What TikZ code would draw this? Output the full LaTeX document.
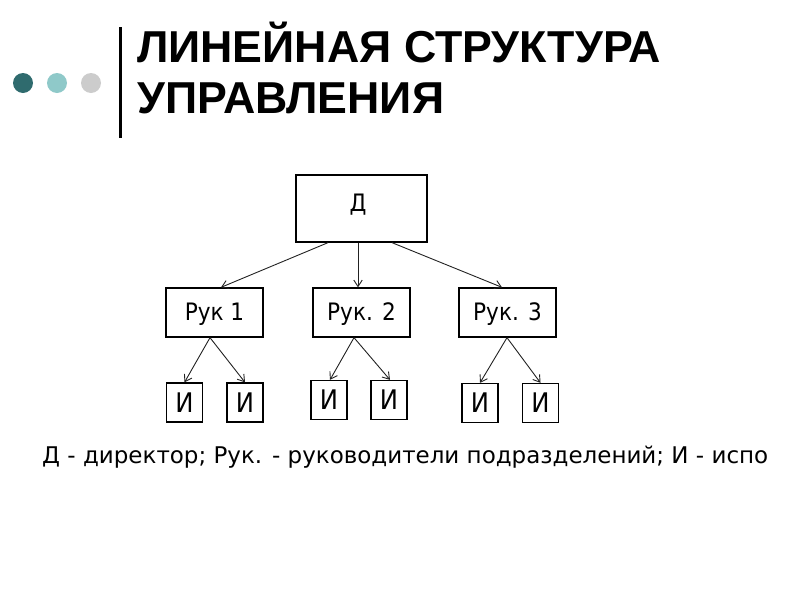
\documentclass[tikz,border=0pt]{standalone}
\usepackage{fontspec}
\setmainfont{DejaVu Sans}
\newfontfamily\titlefont{Liberation Sans}
\newfontfamily\boxfont[FakeStretch=0.9]{DejaVu Sans}
\usetikzlibrary{arrows.meta,calc}
\definecolor{dotA}{HTML}{2F6B6E}
\definecolor{dotB}{HTML}{8FC9C9}
\definecolor{dotC}{HTML}{CCCCCC}
\definecolor{linecol}{HTML}{222222}
\newcommand{\lowertext}[1]{\raisebox{-2pt}[\height][\depth]{#1}}
\tikzset{
  orgbox/.style={draw=black, line width=1.3pt, rectangle, inner sep=0pt, font=\boxfont\fontsize{24}{28}\selectfont},
  ibox/.style={orgbox, minimum width=36pt, minimum height=39pt, font=\boxfont\fontsize{27}{30}\selectfont},
  rukbox/.style={orgbox, minimum width=97pt, minimum height=49pt},
  link/.style={draw=linecol, line width=0.9pt, -{Straight Barb[length=6.5pt,width=8.5pt]}},
  titletext/.style={anchor=base west, inner sep=0pt, font=\titlefont\bfseries\fontsize{44.7}{50}\selectfont},
}
\begin{document}
\begin{tikzpicture}[x=1pt,y=-1pt]
\useasboundingbox (0,0) rectangle (800,600);
% decorations
\fill[dotA] (23,83) circle (10);
\fill[dotB] (57,83) circle (10);
\fill[dotC] (91,83) circle (10);
\fill[black] (119,27) rectangle (122,138);
\node[titletext] (t1) at (137,62) {ЛИНЕЙНАЯ СТРУКТУРА};
\node[titletext] (t2) at (137,113) {УПРАВЛЕНИЯ};
% boxes
\node[orgbox, minimum width=131pt, minimum height=67pt] (D) at (361.5,208.5) {};
\node[inner sep=0pt, font=\boxfont\fontsize{24}{28}\selectfont] (Dt) at (358,205) {Д};
\node[rukbox] (R1) at (214.5,312.5) {\lowertext{Рук 1}};
\node[rukbox] (R2) at (361.5,312.5) {\lowertext{Рук. 2}};
\node[rukbox] (R3) at (507.5,312.5) {\lowertext{Рук. 3}};
\node[ibox] (I1) at (184.5,402.5) {И};
\node[ibox] (I2) at (245,402.5) {И};
\node[ibox] (I3) at (329,400) {И};
\node[ibox] (I4) at (389,400) {И};
\node[ibox] (I5) at (480,403) {И};
\node[ibox] (I6) at (540.5,403) {И};
% links
\draw[link] ($(D.south)+(-33.5,0)$) -- ($(R1.north)+(6.5,0)$);
\draw[link] ($(D.south)+(-3.5,0)$) -- ($(R2.north)+(-3.5,0)$);
\draw[link] ($(D.south)+(30.5,0)$) -- ($(R3.north)+(-5.5,0)$);
\draw[link] ($(R1.south)+(-4.5,0)$) -- (I1.north);
\draw[link] ($(R1.south)+(-4.5,0)$) -- (I2.north);
\draw[link] ($(R2.south)+(-7.5,0)$) -- ($(I3.north)+(1,0)$);
\draw[link] ($(R2.south)+(-7.5,0)$) -- ($(I4.north)+(1,0)$);
\draw[link] ($(R3.south)+(-0.5,0)$) -- (I5.north);
\draw[link] ($(R3.south)+(-0.5,0)$) -- (I6.north);
% legend
\node[anchor=base west, inner sep=0pt] (legend) at (42,463) {\resizebox{726pt}{!}{\fontsize{22}{26}\selectfont Д - директор; Рук. - руководители подразделений; И - испо}};
\end{tikzpicture}
\end{document}
